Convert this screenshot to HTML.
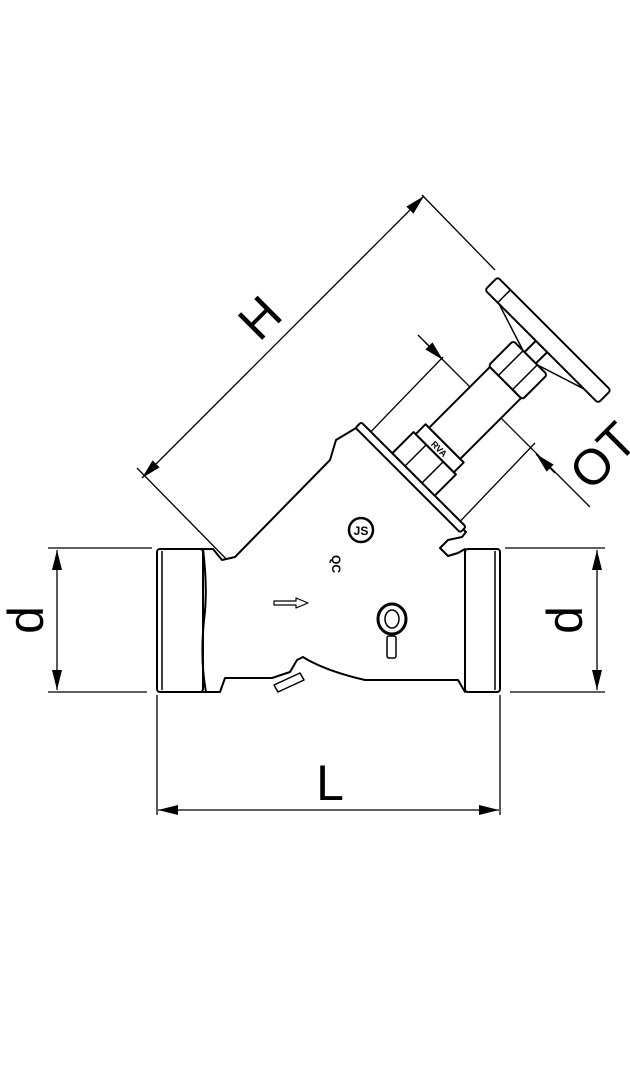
<!DOCTYPE html>
<html><head><style>html,body{margin:0;padding:0;background:#fff}svg{display:block}</style></head>
<body>
<svg width="630" height="1080" viewBox="0 0 630 1080" xmlns="http://www.w3.org/2000/svg" font-family="Liberation Sans, sans-serif">
<defs>
<marker id="a" viewBox="0 0 20 10" refX="20" refY="5" markerWidth="20" markerHeight="10" markerUnits="userSpaceOnUse" orient="auto-start-reverse"><path d="M0,0L20,5L0,10z" fill="#000"/></marker>
</defs>
<g stroke="#000" fill="none" stroke-width="1.3">
<!-- left d -->
<line x1="48" y1="548" x2="152" y2="548"/><line x1="48" y1="692" x2="147" y2="692"/>
<line x1="57" y1="550" x2="57" y2="690" marker-start="url(#a)" marker-end="url(#a)"/>
<!-- right d -->
<line x1="505" y1="548" x2="605" y2="548"/><line x1="510" y1="692" x2="605" y2="692"/>
<line x1="597" y1="550" x2="597" y2="690" marker-start="url(#a)" marker-end="url(#a)"/>
<!-- L -->
<line x1="157" y1="695" x2="157" y2="815"/><line x1="500" y1="695" x2="500" y2="815"/>
<line x1="158" y1="810" x2="499" y2="810" marker-start="url(#a)" marker-end="url(#a)"/>
<!-- H -->
<line x1="137" y1="468" x2="237" y2="570"/><line x1="422" y1="195" x2="495" y2="270"/>
<line x1="142" y1="478" x2="424" y2="196" marker-start="url(#a)" marker-end="url(#a)"/>
<!-- OT -->
<line x1="418" y1="335" x2="590" y2="507"/>
<line x1="443" y1="357" x2="360" y2="443"/><line x1="535" y1="443" x2="450" y2="532"/>
<line x1="425" y1="342" x2="443" y2="360" marker-end="url(#a)"/>
<line x1="555" y1="473" x2="536" y2="454" marker-end="url(#a)"/>
</g>
<g stroke="#000" fill="#fff" stroke-width="2" stroke-linejoin="round">
<!-- body -->
<path d="M200,549 L213,549 L222,560 L235,557 L330,460 L336,440 L356,428 L466,532 L462,537 L448,540 L440,548 L448,556 L458,553 L465,549 L465,692 L458,680 L365,680 Q330,672 308,660 L303,657 L297,660 L290,672 L272,678 L225,678 L220,692 L200,692 Z"/>
<rect x="157" y="549" width="46" height="143" rx="3"/>
<line x1="162" y1="551" x2="162" y2="690" stroke-width="1.5"/>
<path d="M203,549 Q208,590 204,620 Q200,660 206,692" fill="none"/>
<rect x="465" y="549" width="35" height="143" rx="3"/>
<line x1="495" y1="551" x2="495" y2="690" stroke-width="1.5"/>
<!-- handle lug bottom -->
<path d="M274,685 L300,673 L304,680 L278,692 Z" stroke-width="1.5"/>
<!-- bonnet rotated -->
<g transform="translate(410,478) rotate(-45)">
<rect x="-3" y="-74" width="8" height="148" rx="2"/>
<rect x="5" y="-30" width="30" height="60"/>
<line x1="5" y1="-12" x2="35" y2="-12" stroke-width="1.5"/>
<line x1="5" y1="12" x2="35" y2="12" stroke-width="1.5"/>
<rect x="35" y="-27" width="14" height="54" fill="#fff"/>
<rect x="49" y="-22" width="86" height="44"/>
<rect x="135" y="-24" width="35" height="48" rx="3"/>
<line x1="135" y1="-10" x2="170" y2="-10" stroke-width="1.5"/>
<line x1="135" y1="10" x2="170" y2="10" stroke-width="1.5"/>
<path d="M170,-10 L186,-60 M170,10 L186,60" fill="none" stroke-width="1.5"/>
<rect x="170" y="-8" width="16" height="16"/>
<rect x="186" y="-80" width="18" height="160" rx="3"/>
<line x1="186" y1="-62" x2="204" y2="-62" stroke-width="1.5"/>
<text x="42" y="4" font-size="9" font-weight="bold" fill="#000" stroke="none" text-anchor="middle" transform="rotate(90 42 0)">RVA</text>
</g>
<!-- logo -->
<circle cx="361" cy="530" r="12" stroke-width="2.5"/>
<text x="361" y="535" font-size="12" font-weight="bold" text-anchor="middle" fill="#000" stroke="none">JS</text>
<text x="337" y="560" font-size="12" font-weight="bold" fill="#000" stroke="none" transform="rotate(90 337 555)">QC</text>
<!-- ring -->
<ellipse cx="392" cy="619" rx="14" ry="15" stroke-width="3"/>
<ellipse cx="392" cy="619" rx="7" ry="9" stroke-width="1.5"/>
<rect x="387" y="636" width="9" height="22" rx="2" stroke-width="1.5"/>
<!-- flow arrow -->
<path d="M274,601 L296,601 L296,598 L308,603 L296,608 L296,605 L274,605 Z" stroke-width="1.2"/>
</g>
<g fill="#000" font-size="50">
<text x="330" y="800" text-anchor="middle">L</text>
<text transform="translate(43,620) rotate(-90)" text-anchor="middle">d</text>
<text transform="translate(582,620) rotate(-90)" text-anchor="middle">d</text>
<text transform="translate(272,330) rotate(-45)" text-anchor="middle">H</text>
<text transform="translate(615,468) rotate(-45)" text-anchor="middle">OT</text>
</g>
</svg>
</body></html>
